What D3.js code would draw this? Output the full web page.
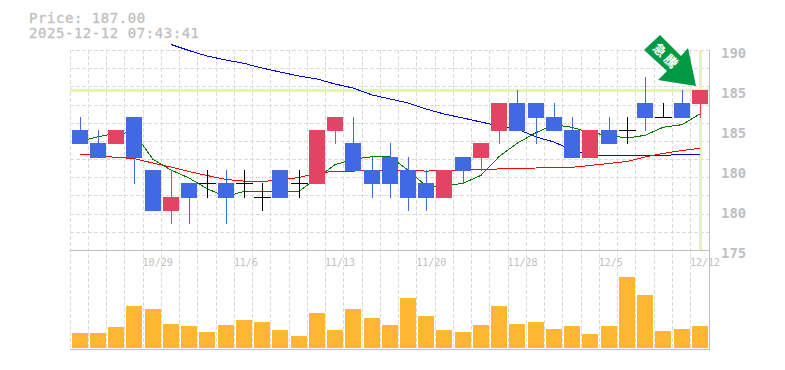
<!DOCTYPE html>
<html><head><meta charset="utf-8">
<style>html,body{margin:0;padding:0;background:#fff}svg{display:block}text{font-family:"DejaVu Sans Mono",monospace}</style>
<script src="https://cdn.jsdelivr.net/npm/d3@7"></script></head><body>
<svg id="c" width="785" height="370"></svg>
<script>
const dates=["10/23","10/24","10/27","10/28","10/29","10/30","10/31","11/4","11/5","11/6","11/7","11/10","11/11","11/12","11/13","11/14","11/17","11/18","11/19","11/20","11/21","11/25","11/26","11/27","11/28","12/1","12/2","12/3","12/4","12/5","12/8","12/9","12/10","12/11","12/12"];
const opens=[184,183,183,185,181,178,180,180,180,180,179,181,180,180,184,183,181,182,181,180,179,182,182,184,186,186,185,184,182,184,184,186,185,186,186];
const closes=[183,182,184,182,178,179,179,180,179,180,179,179,180,184,185,181,180,180,179,179,181,181,183,186,184,185,184,182,184,183,184,185,185,185,187];
const highs=[185,184,184,185,181,181,180,181,181,181,180,181,181,184,185,185,182,183,182,181,181,182,183,186,187,186,186,185,184,185,185,188,186,187,187];
const lows=[183,182,183,180,178,177,177,179,177,179,178,179,179,180,183,181,179,179,178,178,179,180,181,183,184,183,184,182,182,183,183,184,185,185,185];
const ma5=[183.15,183.5,183.75,183.8,181.8,181,180.4,179.6,179,179.4,179.4,179.4,179.4,180.4,181.4,181.8,182,182,181,179.8,179.8,180,180.6,182,183,183.8,184.4,184.2,183.8,183.6,183.4,183.6,184.2,184.4,185.2];
const ma25=[182.2,182.07,181.95,181.86,181.52,181.22,180.89,180.59,180.29,180.17,180.14,180.25,180.44,180.78,180.89,180.92,180.96,180.98,180.96,180.92,180.95,181,181.02,181.08,181.11,181.15,181.19,181.2,181.34,181.49,181.64,181.98,182.24,182.46,182.63];
const ma75=[null,null,null,null,null,190.41,189.96,189.55,189.25,189,188.65,188.35,188.05,187.83,187.45,187.15,186.63,186.33,186.03,185.58,185.2,184.9,184.6,184.3,184.08,183.48,183.1,182.5,182.09,182.09,182.05,182.09,182.1,182.16,182.16];
const volumes=[15,15,21,42,39,24,22,16,23,28,26,18,12,35,18,39,30,23,50,32,18,16,23,42,24,26,19,22,14,22,71,53,17,19,22];
const priceTicks=[190,187,184,181,178,175];
const priceLabels=["190","185","185","180","180","175"];
const dateTicks=["10/29","11/6","11/13","11/20","11/28","12/5","12/12"];
const currentPrice=187;

const svg=d3.select("#c");
const L=70,R=709,T=50,B=250,VB=348;
const x=d3.scaleBand().domain(d3.range(dates.length)).range([L+.5,R]);
const cx=i=>Math.round(x(i)+x.bandwidth()/2);
const y=d3.scaleLinear().domain([175,190]).range([B,T]);
const yv=d3.scaleLinear().domain([0,98]).range([VB,B]);
const grey="#c0c0c0",gridC="#dcdcdc";

// grid
const grid=svg.append("g").attr("shape-rendering","crispEdges").attr("stroke",gridC).attr("stroke-dasharray","4 2");
d3.range(dates.length).forEach(i=>{
  const gx=Math.floor(L+i*(R-L)/dates.length)+.5;
  grid.append("line").attr("x1",gx).attr("x2",gx).attr("y1",T).attr("y2",VB);
});
d3.range(0,11).forEach(i=>{
  const gy=Math.round(T+i*(B-T)/11)+.5;
  grid.append("line").attr("x1",L).attr("x2",R).attr("y1",gy).attr("y2",gy);
});
// frame
const fr=svg.append("g").attr("stroke",grey).attr("stroke-width",1).attr("shape-rendering","crispEdges");
fr.append("line").attr("x1",L).attr("x2",R+1).attr("y1",B+.5).attr("y2",B+.5);
fr.append("line").attr("x1",L).attr("x2",R+1).attr("y1",349.5).attr("y2",349.5);
fr.append("line").attr("x1",R+.5).attr("x2",R+.5).attr("y1",T).attr("y2",350);

// current price bands
svg.append("rect").attr("x",L).attr("width",R-L).attr("y",y(currentPrice)-1).attr("height",3).attr("fill","#e4f5ae");
svg.append("rect").attr("x",cx(34)-1).attr("width",3).attr("y",T+1).attr("height",B-T-1).attr("fill","#e4f5ae");

// volume
svg.append("g").attr("shape-rendering","crispEdges").selectAll("rect").data(volumes).join("rect")
 .attr("x",(d,i)=>cx(i)-8).attr("width",16).attr("y",d=>yv(d)).attr("height",d=>VB-yv(d)).attr("fill","#ffb733");

// moving averages
const lineGen=d3.line().defined(d=>d!=null).x((d,i)=>cx(i)).y(d=>y(d));
[[ma75,"#0000ee"],[ma25,"#ff0000"],[ma5,"#007a00"]].forEach(([a,c])=>{
  svg.append("path").attr("d",lineGen(a)).attr("fill","none").attr("stroke",c).attr("stroke-width",1).attr("shape-rendering","crispEdges");
});

// candles
const colr=i=>closes[i]===opens[i]?"#000":closes[i]>opens[i]?"#e24463":"#4169e1";
const cg=svg.append("g").attr("shape-rendering","crispEdges");
dates.forEach((d,i)=>{
  const c=colr(i);
  cg.append("line").attr("x1",cx(i)+.5).attr("x2",cx(i)+.5).attr("y1",Math.round(y(highs[i]))).attr("y2",Math.round(y(lows[i]))+1).attr("stroke",c);
  if(opens[i]===closes[i]){
    cg.append("line").attr("x1",cx(i)-8).attr("x2",cx(i)+9).attr("y1",Math.round(y(opens[i]))+.5).attr("y2",Math.round(y(opens[i]))+.5).attr("stroke",c);
  } else {
    const t=Math.round(y(Math.max(opens[i],closes[i]))),b=Math.round(y(Math.min(opens[i],closes[i])))+1;
    cg.append("rect").attr("x",cx(i)-8).attr("width",16).attr("y",t).attr("height",b-t).attr("fill",c);
  }
});

// axes text (opacity forces greyscale antialiasing, as in the reference)
const ya=d3.axisRight(y).tickValues(priceTicks).tickSize(0).tickPadding(0).tickFormat((d,i)=>priceLabels[i]);
const yg=svg.append("g").attr("transform","translate(721,3)").attr("opacity",.999).call(ya);
yg.select(".domain").remove();
yg.selectAll("text").attr("fill",grey).attr("font-size",14).attr("font-weight","bold").style("font-family",'"DejaVu Sans Mono"');

const xa=d3.axisBottom(x).tickValues(dateTicks.map(d=>dates.indexOf(d))).tickSize(0).tickPadding(0).tickFormat(i=>dates[i]);
const xg=svg.append("g").attr("transform",`translate(0,${B+9})`).attr("opacity",.999).call(xa);
xg.select(".domain").remove();
xg.selectAll("text").attr("fill",grey).attr("font-size",10).attr("text-anchor","start").attr("dx",-10).style("font-family",'"DejaVu Sans Mono"');

// header
const hg=svg.append("g").attr("opacity",.999);
hg.append("text").attr("x",29).attr("y",23).attr("fill",grey).attr("stroke",grey).attr("stroke-width",.3).attr("font-size",14).attr("letter-spacing",.55).text("Price: "+currentPrice.toFixed(2));
hg.append("text").attr("x",29).attr("y",38).attr("fill",grey).attr("stroke",grey).attr("stroke-width",.3).attr("font-size",14).attr("letter-spacing",.55).text("2025-12-12 07:43:41");

// arrow
const ag=svg.append("g").attr("opacity",.999);
ag.append("polygon").attr("points","660,35 644,50 667,71 658,80 696,86 688,48 681,56").attr("fill","#009944");
ag.append("text").attr("transform","translate(663,60) rotate(45)").attr("text-anchor","middle").attr("fill","#fff").attr("font-size",13).attr("font-weight","bold").attr("letter-spacing",3).style("font-family",'"Noto Sans CJK JP"').text("急騰");
</script></body></html>
